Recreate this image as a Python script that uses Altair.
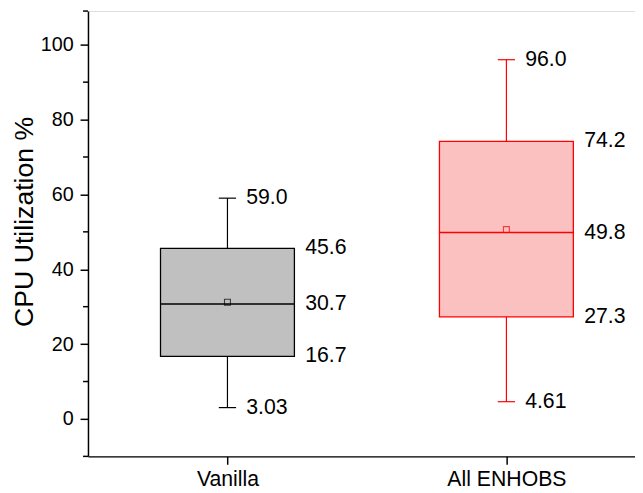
import altair as alt
import pandas as pd

groups = ["Vanilla", "All ENHOBS"]
positions = [1, 2]
whisker_low = [3.03, 4.61]
q1 = [16.7, 27.3]
median = [30.7, 49.8]
q3 = [45.6, 74.2]
whisker_high = [59.0, 96.0]
means = [31.2, 50.6]

major_ticks = [0, 20, 40, 60, 80, 100]
minor_ticks = [-10, 10, 30, 50, 70, 90]

FONT = "Liberation Sans"
HALF_BOX = 0.24
HALF_CAP = 0.031

df = pd.DataFrame({
    "group": groups, "pos": positions, "lo": whisker_low, "q1": q1,
    "med": median, "q3": q3, "hi": whisker_high, "mean": means,
})
df["bx0"] = df["pos"] - HALF_BOX
df["bx1"] = df["pos"] + HALF_BOX
df["cx0"] = df["pos"] - HALF_CAP
df["cx1"] = df["pos"] + HALF_CAP

cap_rows, box_rows = [], []
for i, g in enumerate(groups):
    for v in (whisker_low[i], whisker_high[i]):
        cap_rows.append({"group": g, "x": positions[i], "v": v, "t": f"{v:#.3g}"})
    for v in (q1[i], median[i], q3[i]):
        box_rows.append({"group": g, "x": positions[i] + HALF_BOX, "v": v, "t": f"{v:#.3g}"})
cap_df = pd.DataFrame(cap_rows)
box_df = pd.DataFrame(box_rows)

xscale = alt.Scale(domain=[0.5, 2.461], nice=False, zero=False)
yscale = alt.Scale(domain=[-10, 109], nice=False, zero=False)
fill_scale = alt.Scale(domain=groups, range=["#C0C0C0", "#FBC1C1"])
stroke_scale = alt.Scale(domain=groups, range=["#000000", "#FF0000"])

label_expr = "datum.value == 1 ? 'Vanilla' : (datum.value == 2 ? 'All ENHOBS' : '')"

base = alt.Chart(df)

box = base.mark_rect(strokeWidth=1.3).encode(
    x=alt.X("bx0:Q", scale=xscale, title=None,
            axis=alt.Axis(values=[1, 2], labelExpr=label_expr, grid=False,
                          domainColor="black", domainWidth=1.5, tickColor="black",
                          tickWidth=1.5, tickSize=8, labelFont=FONT, labelFontSize=21.5,
                          labelColor="black", labelPadding=4)),
    x2="bx1:Q",
    y=alt.Y("q1:Q", scale=yscale, title="CPU Utilization %",
            axis=alt.Axis(values=major_ticks, grid=False, domainColor="black",
                          domainWidth=1.5, tickColor="black", tickWidth=1.5, tickSize=8,
                          labelFont=FONT, labelFontSize=20, labelColor="black",
                          labelPadding=7, titleFont=FONT, titleFontSize=27,
                          titleFontWeight="normal", titleColor="black",
                          titleX=-64, titleY=213, titleAngle=-90,
                          titleBaseline="middle", titleAlign="center")),
    y2="q3:Q",
    fill=alt.Fill("group:N", scale=fill_scale, legend=None),
    stroke=alt.Stroke("group:N", scale=stroke_scale, legend=None),
)

wl = base.mark_rule(strokeWidth=1.2).encode(
    x=alt.X("pos:Q", scale=xscale), y=alt.Y("lo:Q", scale=yscale), y2="q1:Q",
    color=alt.Color("group:N", scale=stroke_scale, legend=None))
wh = base.mark_rule(strokeWidth=1.2).encode(
    x=alt.X("pos:Q", scale=xscale), y=alt.Y("q3:Q", scale=yscale), y2="hi:Q",
    color=alt.Color("group:N", scale=stroke_scale, legend=None))
cl = base.mark_rule(strokeWidth=1.2).encode(
    x=alt.X("cx0:Q", scale=xscale), x2="cx1:Q", y=alt.Y("lo:Q", scale=yscale),
    color=alt.Color("group:N", scale=stroke_scale, legend=None))
ch = base.mark_rule(strokeWidth=1.2).encode(
    x=alt.X("cx0:Q", scale=xscale), x2="cx1:Q", y=alt.Y("hi:Q", scale=yscale),
    color=alt.Color("group:N", scale=stroke_scale, legend=None))
med = base.mark_rule(strokeWidth=1.5).encode(
    x=alt.X("bx0:Q", scale=xscale), x2="bx1:Q", y=alt.Y("med:Q", scale=yscale),
    color=alt.Color("group:N", scale=stroke_scale, legend=None))
mean = base.mark_square(size=36, filled=False, strokeWidth=1.1).encode(
    x=alt.X("pos:Q", scale=xscale), y=alt.Y("mean:Q", scale=yscale),
    color=alt.Color("group:N", scale=stroke_scale, legend=None))

cap_text = alt.Chart(cap_df).mark_text(
    align="left", baseline="middle", dx=19, font=FONT, fontSize=21.5, color="black"
).encode(x=alt.X("x:Q", scale=xscale), y=alt.Y("v:Q", scale=yscale), text="t:N")
box_text = alt.Chart(box_df).mark_text(
    align="left", baseline="middle", dx=11, font=FONT, fontSize=21.5, color="black"
).encode(x=alt.X("x:Q", scale=xscale), y=alt.Y("v:Q", scale=yscale), text="t:N")

minor = alt.Chart(pd.DataFrame({"m": minor_ticks})).mark_rule(
    color="black", strokeWidth=1.5
).encode(x=alt.value(-5), x2=alt.value(0), y=alt.Y("m:Q", scale=yscale))

top_end = alt.Chart(pd.DataFrame({"m": [109]})).mark_rule(
    color="black", strokeWidth=1.5
).encode(x=alt.value(-5), x2=alt.value(0), y=alt.Y("m:Q", scale=yscale))

chart = alt.layer(box, wl, wh, cl, ch, med, mean, cap_text, box_text, minor, top_end).properties(
    width=554, height=451,
    autosize=alt.AutoSizeParams(type="none"),
    padding={"left": 81, "top": 0, "right": 0, "bottom": 34},
).configure_view(stroke=None).configure(background="white")

chart.save("out.html", embed_options={"renderer": "svg", "actions": False})
